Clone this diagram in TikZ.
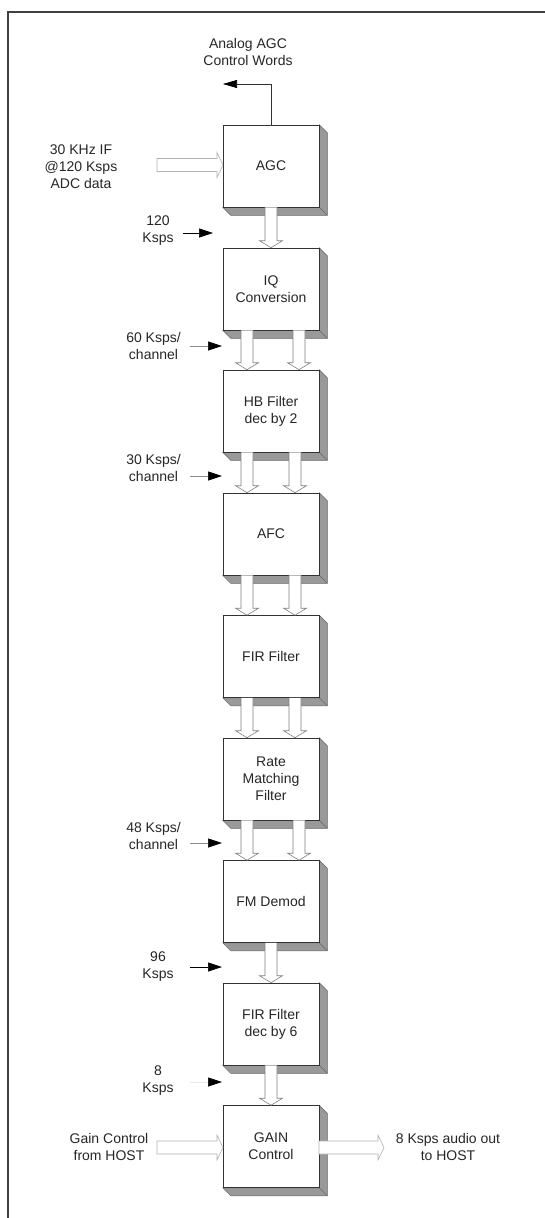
\documentclass[tikz,border=0pt]{standalone}
\usepackage{fontspec}
\setmainfont{Liberation Sans}
\usetikzlibrary{arrows.meta,calc,backgrounds}

\tikzset{
 blk/.style={draw=black!80, line width=0.6pt, fill=white, minimum width=96pt, minimum height=82pt, inner sep=0pt, align=center, text=black!85, font=\fontsize{14}{17}\selectfont},
 lbl/.style={align=center, text=black!85, font=\fontsize{14}{17}\selectfont, inner sep=0pt},
 shadeface/.style={fill=black!40, draw=black!60, line width=0.5pt},
 hollow/.style={draw=black!50, line width=0.6pt, fill=white},
 hollowlight/.style={draw=black!30, line width=0.6pt, fill=white},
 ratearrow/.style={line width=0.6pt, -{Triangle[length=14pt,width=9pt,color=black]}},
}

\newcommand\boxblk[4]{%
 \node[blk] (#1) at (#2,#3) {#4};
 \begin{scope}[on background layer]
  \filldraw[shadeface] (#1.north east) -- ++(8,-8) -- ($(#1.south east)+(8,-8)$) -- ($(#1.south west)+(8,-8)$) -- (#1.south west) -- (#1.south east) -- cycle;
  \draw[black!60, line width=0.5pt] (#1.south east) -- ++(8,-8);
 \end{scope}}

\newcommand\dnarr[3]{%
 \draw[hollow] let \p1=(#1.south), \p2=(#2.north) in
  ({\x1+(#3)*1pt-6pt},\y1) -- ({\x1+(#3)*1pt-6pt},{\y2+7pt}) -- ({\x1+(#3)*1pt-11.5pt},{\y2+7pt}) -- ({\x1+(#3)*1pt},\y2) -- ({\x1+(#3)*1pt+11.5pt},{\y2+7pt}) -- ({\x1+(#3)*1pt+6pt},{\y2+7pt}) -- ({\x1+(#3)*1pt+6pt},\y1);}

\newcommand\rtarr[3]{% style, start coordinate, target (tip) coordinate
 \draw[#1] let \p1=(#2), \p2=(#3) in
  (\x1,{\y1+6.5pt}) -- ({\x2-6pt},{\y1+6.5pt}) -- ({\x2-6pt},{\y1+12.5pt}) -- (\x2,\y1) -- ({\x2-6pt},{\y1-12.5pt}) -- ({\x2-6pt},{\y1-6.5pt}) -- (\x1,{\y1-6.5pt}) -- cycle;}

\begin{document}
\begin{tikzpicture}[x=1pt,y=1pt]
\useasboundingbox (0,0) rectangle (545,-1218);
\draw[black!75, line width=1.2pt] (8,-1218) -- (8,-12) -- (545,-12);

\boxblk{agc}{271}{-166}{AGC}
\boxblk{iq}{271}{-289}{IQ\\Conversion}
\boxblk{hb}{271}{-411}{HB Filter\\dec by 2}
\boxblk{afc}{271}{-534}{AFC}
\boxblk{fir}{271}{-656.5}{FIR Filter}
\boxblk{rmf}{271}{-779}{Rate\\Matching\\Filter}
\boxblk{fm}{271}{-901.5}{FM Demod}
\boxblk{firb}{271}{-1024}{FIR Filter\\dec by 6}
\boxblk{gain}{271}{-1146.5}{GAIN\\Control}

% block arrows between stages
\dnarr{agc}{iq}{0}
\dnarr{iq}{hb}{-24}
\dnarr{iq}{hb}{28}
\dnarr{hb}{afc}{-24}
\dnarr{hb}{afc}{24}
\dnarr{afc}{fir}{-24}
\dnarr{afc}{fir}{24}
\dnarr{fir}{rmf}{-24}
\dnarr{fir}{rmf}{24}
\dnarr{rmf}{fm}{-24}
\dnarr{rmf}{fm}{28}
\dnarr{fm}{firb}{0}
\dnarr{firb}{gain}{0}

% AGC control words
\node[lbl] (ctl) at (248,-52) {Analog AGC\\Control Words};
\coordinate (ctlend) at (223,-84);
\draw[black!80, line width=0.6pt, -{Triangle[length=14pt,width=8pt,color=black]}] (agc.north) |- (ctlend);

% input
\node[lbl] (inp) at (81,-167) {30 KHz IF\\@120 Ksps\\ADC data};
\coordinate (ins) at (157,-165);
\coordinate (inend) at (223,-165);
\rtarr{hollowlight}{ins}{inend}

% gain control input
\node[lbl] (gin) at (109,-1146.5) {Gain Control\\from HOST};
\coordinate (gins) at (157,-1147.5);
\coordinate (ginend) at (223,-1147.5);
\rtarr{hollowlight}{gins}{ginend}

% output
\node[lbl] (out) at (448,-1146.5) {8 Ksps audio out\\to HOST};
\coordinate (outs) at (319,-1147.5);
\coordinate (outend) at (384,-1147.5);
\rtarr{hollowlight}{outs}{outend}

% rate labels
\node[lbl] (r120) at (158,-230.5) {120\\Ksps};
\coordinate (r120s) at (183,-233); \coordinate (r120e) at (213,-233);
\draw[ratearrow, black] (r120s) -- (r120e);

\node[lbl] (r60) at (153.5,-345.5) {60 Ksps/\\channel};
\coordinate (r60s) at (190,-346); \coordinate (r60e) at (222,-346);
\draw[ratearrow, black!45] (r60s) -- (r60e);

\node[lbl] (r30) at (153.5,-468) {30 Ksps/\\channel};
\coordinate (r30s) at (190,-476); \coordinate (r30e) at (222,-476);
\draw[ratearrow, black!45] (r30s) -- (r30e);

\node[lbl] (r48) at (153.5,-836) {48 Ksps/\\channel};
\coordinate (r48s) at (190,-843); \coordinate (r48e) at (222,-843);
\draw[ratearrow, black!45] (r48s) -- (r48e);

\node[lbl] (r96) at (158,-966.5) {96\\Ksps};
\coordinate (r96s) at (190,-967); \coordinate (r96e) at (222,-967);
\draw[ratearrow, black] (r96s) -- (r96e);

\node[lbl] (r8) at (158,-1081) {8\\Ksps};
\coordinate (r8s) at (190,-1082); \coordinate (r8e) at (222,-1082);
\draw[ratearrow, black!8] (r8s) -- (r8e);
\end{tikzpicture}
\end{document}
